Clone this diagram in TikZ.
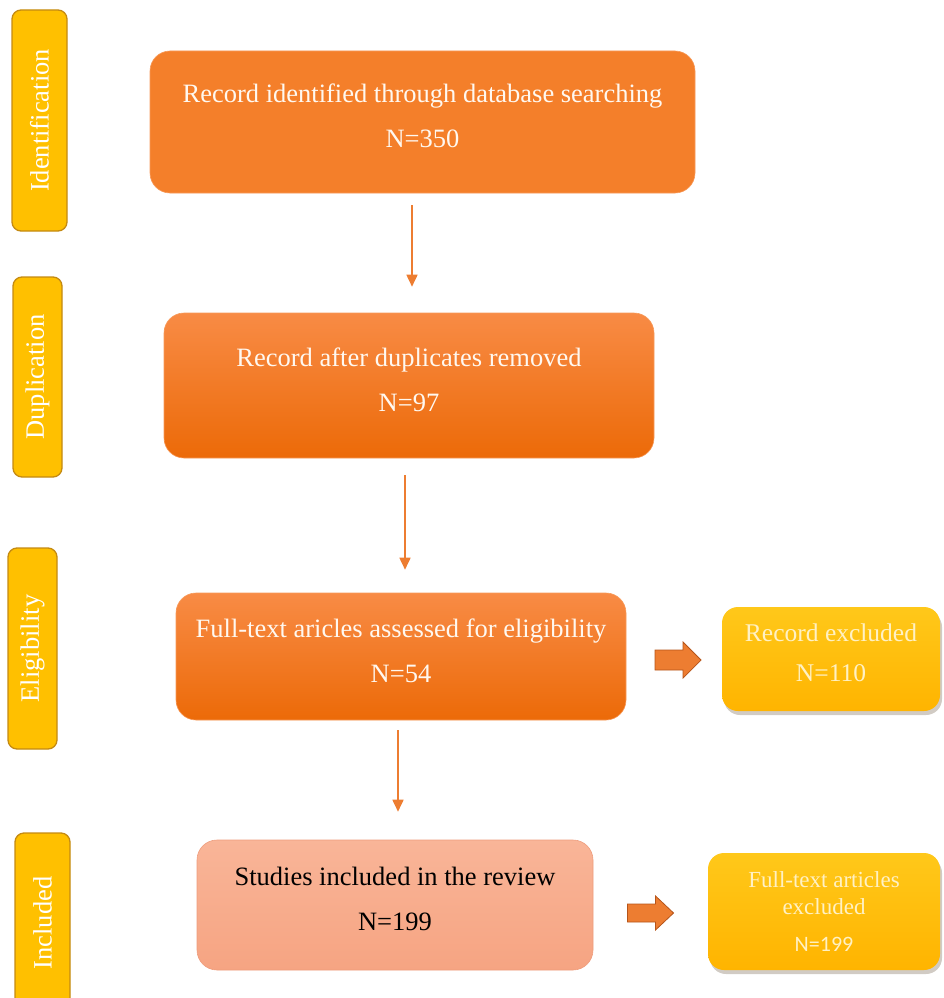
\documentclass[tikz,border=0pt]{standalone}
\usepackage{fontspec}
\setmainfont{Liberation Serif}
\newfontfamily\calib{Carlito}
\usetikzlibrary{arrows.meta,shadows,calc}
\definecolor{sideF}{HTML}{FFC000}
\definecolor{sideB}{HTML}{C48A12}
\definecolor{orA}{HTML}{F47F2A}
\definecolor{orTop}{HTML}{F88B45}
\definecolor{orBot}{HTML}{EC6A08}
\definecolor{orLine}{HTML}{F79A5A}
\definecolor{salTop}{HTML}{F9B598}
\definecolor{salBot}{HTML}{F6A482}
\definecolor{salLine}{HTML}{EE9C7C}
\definecolor{yelTop}{HTML}{FFC81A}
\definecolor{yelBot}{HTML}{FFB400}
\definecolor{txtW}{HTML}{FFF8F0}
\definecolor{txtY}{HTML}{FFF1C4}
\definecolor{arrC}{HTML}{ED7D31}
\definecolor{arrB}{HTML}{B5541A}
\definecolor{shadowC}{HTML}{7A6A55}
\begin{document}
\begin{tikzpicture}[x=1pt,y=-1pt,
  side/.style={draw=sideB, line width=1.3pt, fill=sideF, rounded corners=9pt, rotate=90,
    text=white, font=\fontsize{26.5}{26.5}\selectfont, inner sep=0pt},
  mainbox/.style={rounded corners=20pt, draw=orLine, line width=0.6pt, text=txtW,
    align=center, font=\fontsize{26.5}{45}\selectfont, text depth=12pt, inner sep=0pt},
  rightbox/.style={rounded corners=16pt, top color=yelTop, bottom color=yelBot, draw=none,
    text=txtY, align=center, inner sep=0pt,
    drop shadow={shadow xshift=2pt, shadow yshift=-4pt, fill=shadowC, opacity=0.35}},
  arr/.style={draw=arrC, line width=1.7pt, -{Triangle[width=11pt,length=12pt]}},
  blockarrow/.style={fill=arrC, draw=arrB, line width=0.8pt, line join=miter}
]
\useasboundingbox (0,0) rectangle (943,998);
\clip (0,0) rectangle (943,998);

% stage labels
\node[side, minimum width=221pt, minimum height=55pt] (sid) at (39.5,120.5) {Identification};
\node[side, minimum width=200pt, minimum height=49pt] (sdup) at (37.5,377) {Duplication};
\node[side, minimum width=201pt, minimum height=49pt] (selig) at (32.5,648.5) {Eligibility};
\node[side, minimum width=180pt, minimum height=55pt] (sinc) at (42.5,923) {Included};

% main boxes
\node[mainbox, fill=orA, minimum width=545pt, minimum height=142pt] (b1) at (422.5,122)
  {Record identified through database searching\\N=350};
\node[mainbox, top color=orTop, bottom color=orBot, minimum width=490pt, minimum height=145pt] (b2) at (409,385.5)
  {Record after duplicates removed\\N=97};
\node[mainbox, top color=orTop, bottom color=orBot, minimum width=450pt, minimum height=127pt] (b3) at (401,656.5)
  {Full-text aricles assessed for eligibility\\N=54};
\node[mainbox, top color=salTop, bottom color=salBot, draw=salLine, text=black, minimum width=396pt, minimum height=130pt] (b4) at (395,905)
  {Studies included in the review\\N=199};

% right boxes
\node[rightbox, minimum width=218pt, minimum height=104pt, font=\fontsize{25.5}{40}\selectfont, text depth=12pt] (r1) at (831,659)
  {Record excluded\\N=110};
\node[rightbox, minimum width=232pt, minimum height=117pt, font=\fontsize{23}{27}\selectfont] (r2) at (824,911.5)
  {Full-text articles\\excluded\\[10pt]{\calib\fontsize{22}{22}\selectfont N=199}};

% vertical arrows
\draw[arr, shorten <=12pt, shorten >=26pt] (b1.south -| 412,0) -- (b2.north -| 412,0);
\draw[arr, shorten <=17pt, shorten >=23pt] (b2.south -| 405,0) -- (b3.north -| 405,0);
\draw[arr, shorten <=10pt, shorten >=28pt] (b3.south -| 398,0) -- (b4.north -| 398,0);

% block arrows
\coordinate (ba1) at ($(b3.east |- 0,660)!0.5!(r1.west |- 0,660)$);
\draw[blockarrow] ($(ba1)+(-19,-10)$) -- ++(28,0) -- ++(0,-8) -- ++(18,18) -- ++(-18,18) -- ++(0,-8) -- ++(-28,0) -- cycle;
\coordinate (ba2) at ($(b4.east |- 0,913)!0.5!(r2.west |- 0,913)$);
\draw[blockarrow] ($(ba2)+(-23,-9)$) -- ++(28,0) -- ++(0,-8) -- ++(18,17) -- ++(-18,17) -- ++(0,-8) -- ++(-28,0) -- cycle;
\end{tikzpicture}
\end{document}
